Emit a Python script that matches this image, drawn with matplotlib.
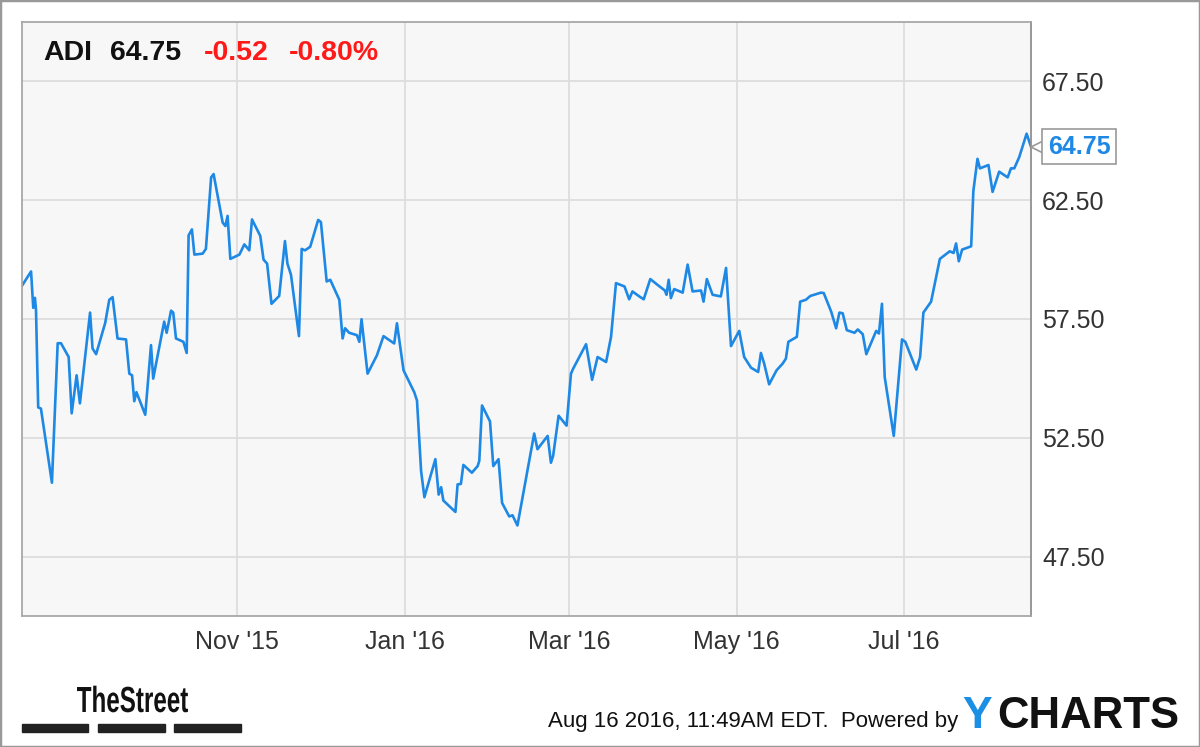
import matplotlib
matplotlib.use("Agg")
import matplotlib.pyplot as plt
import pandas as pd
from matplotlib.font_manager import FontProperties
from matplotlib.patches import PathPatch, Rectangle
from matplotlib.textpath import TextPath
from matplotlib.transforms import Affine2D, offset_copy

# ADI closing prices, one year to Aug 16 2016 (days counted from start)
start = pd.Timestamp("2015-08-14 15:00")
days = [
    0.0, 3.3, 4.1, 4.7, 5.1, 5.9, 6.9, 10.9, 13.0, 14.2, 17.0, 18.1, 19.9, 21.1,
    24.8, 25.7, 27.0, 30.3, 31.8, 33.0, 34.8, 37.9, 39.1, 40.1, 40.9, 41.7, 44.9,
    47.0, 47.8, 51.8, 52.7, 54.3, 55.1, 56.1, 58.8, 60.0, 60.7, 61.9, 62.8, 65.8,
    67.0, 68.9, 69.8, 73.1, 74.1, 74.9, 75.9, 79.2, 81.0, 82.8, 83.8, 86.8, 88.0,
    89.3, 90.9, 93.7, 95.8, 96.7, 98.0, 100.9, 101.9, 103.1, 105.0, 107.9, 108.9,
    111.0, 112.3, 115.6, 116.8, 117.7, 119.2, 122.0, 122.9, 123.7, 125.9, 129.3,
    131.7, 135.6, 136.6, 139.0, 142.9, 143.9, 145.4, 146.6, 150.6, 151.8, 152.7,
    153.5, 157.9, 158.7, 159.9, 160.8, 163.9, 166.0, 166.6, 167.6, 170.5, 171.7,
    173.6, 174.9, 177.5, 178.7, 180.5, 186.6, 187.8, 191.5, 192.7, 193.5, 195.5,
    198.4, 200.0, 200.8, 202.4, 205.5, 207.7, 209.7, 212.8, 214.6, 216.4, 219.5,
    221.2, 222.4, 224.9, 226.5, 228.9, 231.5, 234.2, 234.8, 235.6, 236.4, 237.6,
    240.7, 242.5, 244.3, 247.4, 248.3, 249.5, 251.6, 254.6, 256.5, 258.3, 261.3,
    263.1, 265.6, 268.2, 269.2, 270.4, 272.2, 274.9, 277.1, 278.3, 279.2, 282.3,
    283.5, 285.6, 287.2, 291.1, 292.1, 294.8, 296.6, 297.8, 299.0, 300.5, 303.3,
    304.5, 306.3, 307.6, 311.2, 312.2, 313.3, 314.3, 317.6, 320.6, 321.8, 325.8,
    327.2, 328.4, 331.2, 334.4, 338.0, 339.4, 340.3, 341.3, 342.5, 345.8, 346.6,
    348.1, 349.0, 352.1, 353.6, 356.0, 359.1, 360.3, 361.5, 363.3, 366.0, 367.6,
]
prices = [
    58.90, 59.50, 57.97, 58.39, 57.89, 53.78, 53.73, 50.61, 56.48, 56.48, 55.90,
    53.53, 55.13, 53.95, 57.77, 56.26, 56.02, 57.33, 58.31, 58.42, 56.68, 56.64,
    55.20, 55.13, 54.04, 54.42, 53.47, 56.40, 54.99, 57.39, 56.92, 57.85, 57.77,
    56.68, 56.54, 56.07, 61.02, 61.27, 60.21, 60.25, 60.45, 63.46, 63.60, 61.56,
    61.41, 61.84, 60.03, 60.21, 60.64, 60.39, 61.69, 61.00, 60.00, 59.83, 58.14,
    58.47, 60.78, 59.83, 59.36, 56.78, 60.45, 60.39, 60.54, 61.67, 61.58, 59.08,
    59.15, 58.31, 56.68, 57.11, 56.92, 56.82, 56.54, 57.49, 55.20, 55.97, 56.78,
    56.47, 57.32, 55.34, 54.42, 54.07, 51.10, 50.00, 51.60, 50.11, 50.42, 49.86,
    49.38, 50.54, 50.56, 51.36, 51.03, 51.31, 51.53, 53.86, 53.19, 51.31, 51.60,
    49.76, 49.19, 49.24, 48.81, 52.68, 52.02, 52.58, 51.45, 51.74, 53.43, 53.01,
    55.20, 55.41, 55.76, 56.44, 54.94, 55.90, 55.69, 56.75, 59.01, 58.87, 58.33,
    58.66, 58.45, 58.33, 59.18, 58.94, 58.70, 58.52, 59.15, 58.38, 58.76, 58.61,
    59.79, 58.66, 58.70, 58.23, 59.18, 58.52, 58.45, 59.65, 56.36, 57.00, 55.90,
    55.45, 55.27, 56.07, 55.62, 54.75, 55.34, 55.62, 55.83, 56.54, 56.75, 58.23,
    58.31, 58.47, 58.61, 58.59, 57.81, 57.11, 57.77, 57.74, 57.03, 56.92, 57.06,
    56.86, 56.02, 57.00, 56.89, 58.14, 55.06, 52.58, 56.64, 56.54, 55.37, 55.90,
    57.77, 58.23, 60.03, 60.35, 60.28, 60.68, 59.93, 60.42, 60.56, 62.89, 64.24,
    63.84, 63.98, 62.85, 63.70, 63.46, 63.84, 63.84, 64.31, 65.30, 64.75,
]
tick_dates = ["2015-11-01", "2016-01-01", "2016-03-01", "2016-05-01", "2016-07-01"]
tick_labels = ["Nov '15", "Jan '16", "Mar '16", "May '16", "Jul '16"]
y_ticks = [47.5, 52.5, 57.5, 62.5, 67.5]

symbol = "ADI"
last_price = 64.75
change = -0.52
change_pct = -0.80
stamp = "Aug 16 2016, 11:49AM EDT.  Powered by"

plt.rcParams["font.family"] = ["Liberation Sans", "DejaVu Sans"]

W, H = 1200, 747
BLUE = "#1e88e5"


def fx(x):
    return x / W


def fy(y):
    return 1 - y / H


dates = start + pd.to_timedelta(days, unit="D")

fig = plt.figure(figsize=(W / 100, H / 100), dpi=100)
fig.patch.set_facecolor("white")
ax = fig.add_axes([fx(22), fy(616), (1031 - 22) / W, (616 - 22) / H])
ax.set_facecolor("#f7f7f7")

ax.plot(dates, prices, color=BLUE, lw=1.9, solid_joinstyle="round")

ax.set_xlim(dates[0], dates[-1])
ax.set_ylim(45, 70)
ax.set_xticks(pd.to_datetime(tick_dates))
ax.set_xticklabels(tick_labels, va="baseline")
ax.set_yticks(y_ticks)
ax.set_yticklabels([f"{v:.2f}" for v in y_ticks])
ax.yaxis.tick_right()
ax.tick_params(axis="both", length=0, labelsize=18, labelcolor="#333333")
ax.tick_params(axis="y", pad=8)
ax.tick_params(axis="x", pad=24)
ax.grid(True, color="#dddddd", lw=1.3)
ax.set_axisbelow(True)
for side in ax.spines.values():
    side.set_color("#a8a8a8")
    side.set_linewidth(1.3)
ax.spines["right"].set_color("#909090")

# last price flag on the right axis
notch_tf = offset_copy(ax.get_yaxis_transform(), fig=fig, x=5, units="points")
ax.plot([1.0], [last_price], marker="<", ms=10, mfc="white", mec="#999999",
        mew=1.2, transform=notch_tf, clip_on=False, zorder=5)
ax.annotate(f"{last_price:.2f}", xy=(1.0, last_price),
            xycoords=("axes fraction", "data"), xytext=(12, 0),
            textcoords="offset points", ha="left", va="center",
            fontsize=18, fontweight="bold", color=BLUE,
            bbox=dict(boxstyle="square,pad=0.22", fc="white", ec="#999999", lw=1.2),
            annotation_clip=False, zorder=6)

# header
fig.text(fx(43), fy(60), symbol, fontsize=20.5, fontweight="bold", color="#111111")
fig.text(fx(110), fy(60), f"{last_price:.2f}", fontsize=20.5, fontweight="bold", color="#111111")
fig.text(fx(204), fy(60), f"{change:.2f}", fontsize=20.5, fontweight="bold", color="#ff1a1a")
fig.text(fx(289), fy(60), f"{change_pct:.2f}%", fontsize=20.5, fontweight="bold", color="#ff1a1a")

# TheStreet logo: condensed bold word squeezed into its box
word = TextPath((0, 0), "TheStreet", size=1,
                prop=FontProperties(family="Liberation Sans", weight="bold"))
ext = word.get_extents()
sx = (188 - 77) / ext.width
sy = (712 - 686) / 0.716
logo_tf = Affine2D().translate(-ext.x0, 0).scale(sx / W, sy / H).translate(fx(77), fy(712))
fig.patches.append(PathPatch(word, transform=logo_tf + fig.transFigure,
                             fc="#111111", ec="none"))
for x0, x1 in [(22, 88), (98, 165), (174, 241)]:
    fig.patches.append(Rectangle((fx(x0), fy(732)), fx(x1 - x0), 8 / H,
                                 transform=fig.transFigure, color="#222222"))

# footer right
fig.text(fx(958), fy(727), stamp, fontsize=16, ha="right", color="#111111")
fig.text(fx(962), fy(728), "Y", fontsize=32, fontweight="bold", color="#1a8fe3")
fig.text(fx(997), fy(728), "CHARTS", fontsize=31.5, fontweight="bold", color="#111111")

fig.patches.append(Rectangle((0, 0), 1, 1, transform=fig.transFigure, fill=False,
                             ec="#999999", lw=2.5))

fig.savefig("out.png", dpi=100)
